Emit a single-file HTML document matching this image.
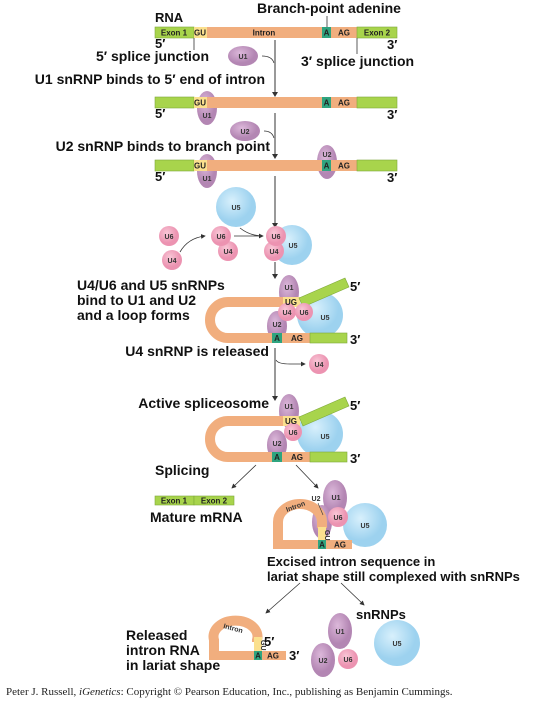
<!DOCTYPE html>
<html><head><meta charset="utf-8"><style>
body{margin:0;background:#fff}
svg{display:block}
text{font-family:"Liberation Sans",sans-serif}
.b{font-weight:bold;font-size:14px;fill:#111}
.b13{font-weight:bold;font-size:13px;fill:#111}
.p{font-weight:bold;font-size:13px;fill:#111}
.s{font-weight:bold;font-size:8px;fill:#222}
.sm{font-weight:bold;font-size:7px;fill:#333}
.ex{fill:#a8d44c;stroke:#7ea83a;stroke-width:.6}
.in{fill:#f1ae7e}
.gu{fill:#fbe08e}
.a{fill:#2fa47f}
.ar{stroke:#999;stroke-width:2;fill:none}
.th{stroke:#333;stroke-width:.8;fill:none}
</style></head><body>
<svg width="543" height="702" viewBox="0 0 543 702" xmlns="http://www.w3.org/2000/svg">
<defs>
<radialGradient id="pu" cx="40%" cy="35%"><stop offset="0" stop-color="#dcb8da"/><stop offset="1" stop-color="#b386b3"/></radialGradient>
<radialGradient id="bl" cx="40%" cy="35%"><stop offset="0" stop-color="#d8f0fc"/><stop offset="1" stop-color="#9dd2ef"/></radialGradient>
<radialGradient id="pk" cx="40%" cy="35%"><stop offset="0" stop-color="#f8c6d6"/><stop offset="1" stop-color="#ec93b1"/></radialGradient>
<marker id="ah" markerWidth="6" markerHeight="6" refX="5" refY="3" orient="auto"><path d="M0,0 L6,3 L0,6z" fill="#333"/></marker>
</defs>

<g>
<line class="ar" x1="275" y1="40" x2="275" y2="93"/><path d="M272,92 L278,92 L275,97z" fill="#333"/>
<line class="ar" x1="275" y1="113" x2="275" y2="155"/><path d="M272,154 L278,154 L275,159z" fill="#333"/>
<line class="ar" x1="275" y1="176" x2="275" y2="224"/><path d="M272,223 L278,223 L275,228z" fill="#333"/>
<line class="ar" x1="275" y1="262" x2="275" y2="275"/><path d="M272,274 L278,274 L275,279z" fill="#333"/>
<line class="ar" x1="275" y1="348" x2="275" y2="397"/><path d="M272,396 L278,396 L275,401z" fill="#333"/>
</g>

<g>
<text class="b13" x="155" y="22">RNA</text>
<text class="b" x="329" y="13" text-anchor="middle">Branch-point adenine</text>
<line x1="327" y1="16" x2="327" y2="27" stroke="#333" stroke-width=".8"/>
<rect class="ex" x="155" y="27" width="39" height="11"/>
<rect class="gu" x="194" y="27" width="13" height="11"/>
<rect class="in" x="207" y="27" width="115" height="11"/>
<rect class="a" x="322" y="27" width="9" height="11"/>
<rect class="in" x="331" y="27" width="26" height="11"/>
<rect class="ex" x="357" y="27" width="40" height="11"/>
<text class="s" x="174" y="35.5" text-anchor="middle">Exon 1</text>
<text class="s" x="200" y="35.5" text-anchor="middle">GU</text>
<text class="s" x="264" y="35.5" text-anchor="middle">Intron</text>
<text class="s" x="326.5" y="35.5" text-anchor="middle" fill="#fff">A</text>
<text class="s" x="344" y="35.5" text-anchor="middle">AG</text>
<text class="s" x="377" y="35.5" text-anchor="middle">Exon 2</text>
<text class="p" x="155" y="48">5′</text>
<text class="p" x="387" y="49">3′</text>
<line x1="194" y1="38" x2="194" y2="50" stroke="#333" stroke-width=".8"/>
<line x1="357" y1="38" x2="357" y2="54" stroke="#333" stroke-width=".8"/>
<text class="b" x="209" y="61" text-anchor="end">5′ splice junction</text>
<text class="b" x="301" y="66">3′ splice junction</text>
</g>
<g>
<ellipse cx="243" cy="56" rx="15" ry="10" fill="url(#pu)"/><text class="sm" x="243" y="59" text-anchor="middle">U1</text>
<path class="th" d="M262,56 Q272,56 274,63"/>
<text class="b" x="265" y="84" text-anchor="end">U1 snRNP binds to 5′ end of intron</text>
</g>

<g>
<ellipse cx="207" cy="108" rx="10" ry="17" fill="url(#pu)"/>
<rect class="ex" x="155" y="97" width="39" height="11"/>
<rect class="gu" x="194" y="97" width="13" height="11"/>
<rect class="in" x="207" y="97" width="115" height="11"/>
<rect class="a" x="322" y="97" width="9" height="11"/>
<rect class="in" x="331" y="97" width="26" height="11"/>
<rect class="ex" x="357" y="97" width="40" height="11"/>
<text class="s" x="200" y="105.5" text-anchor="middle">GU</text>
<text class="s" x="326.5" y="105.5" text-anchor="middle" fill="#fff">A</text>
<text class="s" x="344" y="105.5" text-anchor="middle">AG</text>
<text class="sm" x="207" y="118" text-anchor="middle">U1</text>
<text class="p" x="155" y="118">5′</text>
<text class="p" x="387" y="119">3′</text>
<ellipse cx="245" cy="131" rx="15" ry="10" fill="url(#pu)"/><text class="sm" x="245" y="134" text-anchor="middle">U2</text>
<path class="th" d="M264,131 Q272,131 274,138"/>
<text class="b" x="270" y="151" text-anchor="end">U2 snRNP binds to branch point</text>
</g>

<g>
<ellipse cx="207" cy="171" rx="10" ry="17" fill="url(#pu)"/>
<ellipse cx="327" cy="162" rx="10" ry="17" fill="url(#pu)"/>
<rect class="ex" x="155" y="160" width="39" height="11"/>
<rect class="gu" x="194" y="160" width="13" height="11"/>
<rect class="in" x="207" y="160" width="115" height="11"/>
<rect class="a" x="322" y="160" width="9" height="11"/>
<rect class="in" x="331" y="160" width="26" height="11"/>
<rect class="ex" x="357" y="160" width="40" height="11"/>
<text class="s" x="200" y="168.5" text-anchor="middle">GU</text>
<text class="s" x="326.5" y="168.5" text-anchor="middle" fill="#fff">A</text>
<text class="s" x="344" y="168.5" text-anchor="middle">AG</text>
<text class="sm" x="207" y="181" text-anchor="middle">U1</text>
<text class="sm" x="327" y="157" text-anchor="middle">U2</text>
<text class="p" x="155" y="181">5′</text>
<text class="p" x="387" y="182">3′</text>
</g>

<g>
<circle cx="236" cy="207" r="20" fill="url(#bl)"/><text class="sm" x="236" y="210" text-anchor="middle">U5</text>
<circle cx="169" cy="236" r="10" fill="url(#pk)"/><text class="sm" x="169" y="239" text-anchor="middle">U6</text>
<circle cx="172" cy="260" r="10" fill="url(#pk)"/><text class="sm" x="172" y="263" text-anchor="middle">U4</text>
<path class="th" d="M180,252 Q188,238 205,236" marker-end="url(#ah)"/>
<circle cx="228" cy="251" r="10" fill="url(#pk)"/><text class="sm" x="228" y="254" text-anchor="middle">U4</text>
<circle cx="221" cy="236" r="10" fill="url(#pk)"/><text class="sm" x="221" y="239" text-anchor="middle">U6</text>
<path class="th" d="M234,236 L263,236" marker-end="url(#ah)"/>
<path class="th" d="M240,228 Q250,236 263,236"/>
<circle cx="292" cy="245" r="20" fill="url(#bl)"/><text class="sm" x="293" y="248" text-anchor="middle">U5</text>
<circle cx="274" cy="251" r="10" fill="url(#pk)"/><text class="sm" x="274" y="254" text-anchor="middle">U4</text>
<circle cx="276" cy="236" r="10" fill="url(#pk)"/><text class="sm" x="276" y="239" text-anchor="middle">U6</text>
</g>

<g>
<circle cx="320" cy="315" r="23" fill="url(#bl)"/>
<ellipse cx="289" cy="292" rx="10" ry="17" fill="url(#pu)"/>
<ellipse cx="277" cy="326" rx="10" ry="15" fill="url(#pu)"/>
<path d="M283,302 L228,302 A18 18 0 0 0 228,338 L272,338" stroke="#f1ae7e" stroke-width="10" fill="none"/>
<rect class="gu" x="283" y="297" width="17" height="10"/>
<polygon class="ex" points="299,298 345,278 349,287 303,307"/>
<circle cx="287" cy="312" r="9" fill="url(#pk)"/>
<circle cx="304" cy="312" r="9" fill="url(#pk)"/>
<rect class="a" x="272" y="333" width="10" height="10"/>
<rect class="in" x="282" y="333" width="28" height="10"/>
<rect class="ex" x="310" y="333" width="37" height="10"/>
<text class="sm" x="289" y="290" text-anchor="middle">U1</text>
<text class="s" x="291" y="305" text-anchor="middle">UG</text>
<text class="sm" x="287" y="315" text-anchor="middle">U4</text>
<text class="sm" x="304" y="315" text-anchor="middle">U6</text>
<text class="sm" x="325" y="320" text-anchor="middle">U5</text>
<text class="sm" x="277" y="327" text-anchor="middle">U2</text>
<text class="s" x="277" y="341" text-anchor="middle" fill="#fff">A</text>
<text class="s" x="297" y="341" text-anchor="middle">AG</text>
<text class="p" x="350" y="291">5′</text>
<text class="p" x="350" y="344">3′</text>
<text class="b" x="77" y="290">U4/U6 and U5 snRNPs</text>
<text class="b" x="77" y="305">bind to U1 and U2</text>
<text class="b" x="77" y="320">and a loop forms</text>
<text class="b" x="269" y="356" text-anchor="end">U4 snRNP is released</text>
<path class="th" d="M276,360 Q278,364 290,364 L305,364" marker-end="url(#ah)"/>
<circle cx="319" cy="364" r="10" fill="url(#pk)"/><text class="sm" x="319" y="367" text-anchor="middle">U4</text>
</g>

<g transform="translate(0,119)">
<circle cx="320" cy="315" r="23" fill="url(#bl)"/>
<ellipse cx="289" cy="292" rx="10" ry="17" fill="url(#pu)"/>
<ellipse cx="277" cy="326" rx="10" ry="15" fill="url(#pu)"/>
<path d="M283,302 L228,302 A18 18 0 0 0 228,338 L272,338" stroke="#f1ae7e" stroke-width="10" fill="none"/>
<rect class="gu" x="283" y="297" width="17" height="10"/>
<polygon class="ex" points="299,298 345,278 349,287 303,307"/>
<circle cx="293" cy="313" r="9" fill="url(#pk)"/>
<rect class="a" x="272" y="333" width="10" height="10"/>
<rect class="in" x="282" y="333" width="28" height="10"/>
<rect class="ex" x="310" y="333" width="37" height="10"/>
<text class="sm" x="289" y="290" text-anchor="middle">U1</text>
<text class="s" x="291" y="305" text-anchor="middle">UG</text>
<text class="sm" x="293" y="316" text-anchor="middle">U6</text>
<text class="sm" x="325" y="320" text-anchor="middle">U5</text>
<text class="sm" x="277" y="327" text-anchor="middle">U2</text>
<text class="s" x="277" y="341" text-anchor="middle" fill="#fff">A</text>
<text class="s" x="297" y="341" text-anchor="middle">AG</text>
<text class="p" x="350" y="291">5′</text>
<text class="p" x="350" y="344">3′</text>
</g>
<text class="b" x="269" y="408" text-anchor="end">Active spliceosome</text>

<g>
<text class="b" x="155" y="475">Splicing</text>
<path class="th" d="M256,465 L232,488" marker-end="url(#ah)"/>
<path class="th" d="M296,465 L318,488" marker-end="url(#ah)"/>
<rect class="ex" x="155" y="496" width="39" height="9"/>
<rect class="ex" x="194" y="496" width="40" height="9"/>
<text class="s" x="174" y="503.5" text-anchor="middle">Exon 1</text>
<text class="s" x="214" y="503.5" text-anchor="middle">Exon 2</text>
<text class="b" x="150" y="522">Mature mRNA</text>
</g>

<g>
<circle cx="365" cy="525" r="22" fill="url(#bl)"/>
<ellipse cx="335" cy="498" rx="12" ry="18" fill="url(#pu)"/>
<ellipse cx="322" cy="522" rx="10" ry="17" fill="url(#pu)"/>
<path d="M322,528 L322,522 A22 18 0 1 0 278,522 L278,540" stroke="#f1ae7e" stroke-width="10" fill="none"/>
<rect class="in" x="273" y="540" width="79" height="9"/>
<rect class="gu" x="318" y="527" width="8" height="13"/>
<rect class="a" x="318" y="540" width="8" height="9"/>
<circle cx="338" cy="517" r="10" fill="url(#pk)"/>
<text class="sm" x="336" y="500" text-anchor="middle">U1</text>
<text class="sm" x="338" y="520" text-anchor="middle">U6</text>
<text class="sm" x="365" y="528" text-anchor="middle">U5</text>
<text class="sm" x="316" y="501" text-anchor="middle">U2</text>
<line x1="318" y1="503" x2="323" y2="515" stroke="#333" stroke-width=".6"/>
<text class="sm" transform="translate(287,512) rotate(-20)">Intron</text>
<text class="sm" transform="translate(325,530) rotate(90)">GU</text>
<text class="s" x="322" y="547.5" text-anchor="middle" fill="#fff">A</text>
<text class="s" x="340" y="547.5" text-anchor="middle">AG</text>
<text class="b13" x="267" y="566">Excised intron sequence in</text>
<text class="b13" x="267" y="581">lariat shape still complexed with snRNPs</text>
<path class="th" d="M300,583 L266,613" marker-end="url(#ah)"/>
<path class="th" d="M341,583 L364,605" marker-end="url(#ah)"/>
</g>

<g>
<path d="M257,642 L257,640 A22 16 0 1 0 214,640 L214,652" stroke="#f1ae7e" stroke-width="10" fill="none"/>
<rect class="in" x="209" y="651" width="77" height="9"/>
<rect class="gu" x="254" y="637" width="8" height="14"/>
<rect class="a" x="254" y="651" width="8" height="9"/>
<text class="sm" transform="translate(223,628) rotate(15)">Intron</text>
<text class="sm" transform="translate(261,640) rotate(90)">GU</text>
<text class="s" x="258" y="658.5" text-anchor="middle" fill="#fff">A</text>
<text class="s" x="273" y="658.5" text-anchor="middle">AG</text>
<text class="p" x="264" y="646">5′</text>
<text class="p" x="289" y="660">3′</text>
<text class="b" x="126" y="640">Released</text>
<text class="b" x="126" y="655">intron RNA</text>
<text class="b" x="126" y="670">in lariat shape</text>
</g>

<g>
<text class="b13" x="356" y="619">snRNPs</text>
<ellipse cx="340" cy="631" rx="12" ry="18" fill="url(#pu)"/><text class="sm" x="340" y="634" text-anchor="middle">U1</text>
<circle cx="397" cy="643" r="23" fill="url(#bl)"/><text class="sm" x="397" y="646" text-anchor="middle">U5</text>
<ellipse cx="323" cy="660" rx="12" ry="17" fill="url(#pu)"/><text class="sm" x="323" y="663" text-anchor="middle">U2</text>
<circle cx="348" cy="659" r="10" fill="url(#pk)"/><text class="sm" x="348" y="662" text-anchor="middle">U6</text>
</g>

<text x="6" y="695" style="font-family:'Liberation Serif',serif;font-size:11px" fill="#222">Peter J. Russell, <tspan font-style="italic">iGenetics</tspan>: Copyright © Pearson Education, Inc., publishing as Benjamin Cummings.</text>
</svg>
</body></html>
